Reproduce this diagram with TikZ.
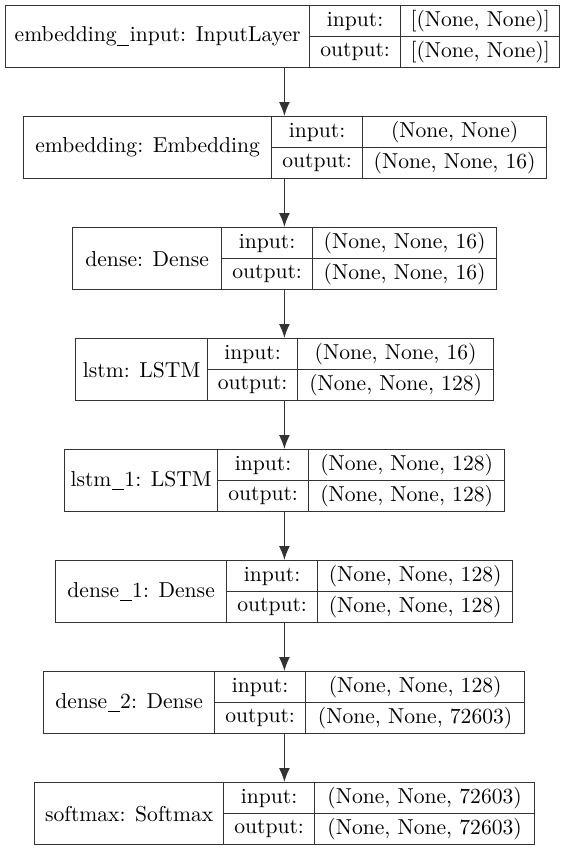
\documentclass[tikz,border=0pt]{standalone}
\usetikzlibrary{arrows.meta}
\newcommand\us{\kern0.3pt\rule[-0.45ex]{0.55em}{0.45pt}\kern0.3pt}
\tikzset{
  cell/.style={draw=black!80, line width=0.65pt, inner sep=0pt, anchor=north west,
    font=\fontsize{10.8}{13}\selectfont},
  flow/.style={-{Latex[length=7pt,width=5.5pt]}, line width=0.65pt, draw=black!80},
}
\begin{document}
\begin{tikzpicture}[x=0.5pt, y=-0.5pt]
  \useasboundingbox (0,0) rectangle (568,848);
  % one row per layer: index/left/split1/split2/right/name/input shape/output shape
  \foreach \i/\xa/\xb/\xc/\xd/\lname/\shpin/\shpout [evaluate=\i as \ly using 5+111*(\i-1)] in {
      1/5/309/400/559/{embedding\us input: InputLayer}/{[(None, None)]}/{[(None, None)]},
      2/23/271/362/546/{embedding: Embedding}/{(None, None)}/{(None, None, 16)},
      3/72/221/312/496/{dense: Dense}/{(None, None, 16)}/{(None, None, 16)},
      4/75/207/297/493/{lstm: LSTM}/{(None, None, 16)}/{(None, None, 128)},
      5/64/217/308/504/{lstm\us 1: LSTM}/{(None, None, 128)}/{(None, None, 128)},
      6/55/226/317/512/{dense\us 1: Dense}/{(None, None, 128)}/{(None, None, 128)},
      7/43/214/305/524/{dense\us 2: Dense}/{(None, None, 128)}/{(None, None, 72603)},
      8/34/223/314/534/{softmax: Softmax}/{(None, None, 72603)}/{(None, None, 72603)}} {
    \node[inner sep=0pt, anchor=north west, minimum width={(\xd-\xa)*0.5pt},
      minimum height=31pt] (box\i) at (\xa,\ly) {};
    \node[cell, minimum width={(\xb-\xa)*0.5pt}, minimum height=31pt] (name\i) at (\xa,\ly) {\lname};
    \node[cell, minimum width={(\xc-\xb)*0.5pt}, minimum height=15.5pt] (inl\i) at (\xb,\ly) {input:};
    \node[cell, minimum width={(\xc-\xb)*0.5pt}, minimum height=15.5pt] (outl\i) at (\xb,\ly+31) {output:};
    \node[cell, minimum width={(\xd-\xc)*0.5pt}, minimum height=15.5pt] (ins\i) at (\xc,\ly) {\shpin};
    \node[cell, minimum width={(\xd-\xc)*0.5pt}, minimum height=15.5pt] (outs\i) at (\xc,\ly+31) {\shpout};
  }
  % connectors
  \foreach \i [count=\j from 2] in {1,...,7}
    \draw[flow] (box\i.south -| box8.south) -- (box\j.north -| box8.south);
\end{tikzpicture}
\end{document}
